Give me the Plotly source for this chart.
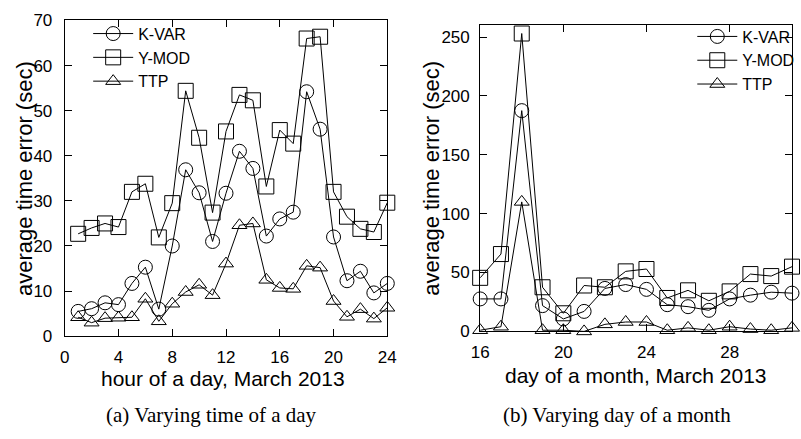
import plotly.graph_objects as go

# ---- data: error per hour of day (March 2013) ----
hours = list(range(1, 25))
kvar_hour = [5.5, 6.1, 7.4, 7.0, 11.7, 15.3, 6.0, 20.0, 36.9, 31.8, 21.0, 31.7,
             41.0, 37.2, 22.2, 26.0, 27.5, 54.2, 45.9, 22.0, 12.3, 14.4, 9.6, 11.7]
ymod_hour = [22.7, 24.0, 25.0, 24.2, 32.0, 33.8, 21.9, 29.5, 54.4, 44.0, 27.4, 45.4,
             53.5, 52.3, 33.2, 45.7, 42.7, 66.0, 66.4, 32.0, 26.5, 23.8, 23.1, 29.6]
ttp_hour = [4.2, 3.0, 4.0, 4.1, 4.2, 8.3, 3.3, 7.2, 9.8, 11.4, 9.1, 16.1,
            24.6, 25.0, 12.5, 10.7, 10.5, 15.6, 15.2, 7.8, 4.3, 6.0, 3.9, 6.3]

# ---- data: error per day of month (March 2013) ----
days = list(range(16, 32))
kvar_day = [27.6, 27.6, 187.5, 21.9, 10.6, 17.0, 36.5, 39.8, 35.7, 22.7, 21.0, 17.9,
            27.6, 30.8, 33.3, 32.5]
ymod_day = [45.5, 65.7, 253.0, 37.5, 15.4, 39.0, 37.5, 51.0, 53.0, 28.4, 34.9, 26.0,
            34.0, 48.7, 47.0, 55.0]
ttp_day = [1.0, 4.0, 110.0, 1.0, 1.0, 0.0, 6.0, 8.0, 8.0, 1.0, 3.0, 1.0,
           4.0, 2.0, 1.0, 3.0]

series_names = ["K-VAR", "Y-MOD", "TTP"]
symbols = ["circle-open", "square-open", "triangle-up-open"]
sizes = [14, 15, 13]

hour_ticks = [0, 4, 8, 12, 16, 20, 24]
hour_yticks = [0, 10, 20, 30, 40, 50, 60, 70]
day_ticks = [16, 20, 24, 28]
day_yticks = [0, 50, 100, 150, 200, 250]

W, H = 801, 439
SANS = "Liberation Sans, Arial, sans-serif"
SERIF = "Liberation Serif, Times New Roman, serif"

fig = go.Figure()

for name, sym, sz, ys in zip(series_names, symbols, sizes, [kvar_hour, ymod_hour, ttp_hour]):
    fig.add_trace(go.Scatter(
        x=hours, y=ys, name=name, mode="lines+markers",
        line=dict(color="black", width=1),
        marker=dict(symbol=sym, size=sz, color="black", line=dict(color="black", width=1)),
        cliponaxis=False, xaxis="x", yaxis="y", legend="legend",
    ))

for name, sym, sz, ys in zip(series_names, symbols, sizes, [kvar_day, ymod_day, ttp_day]):
    fig.add_trace(go.Scatter(
        x=days, y=ys, name=name, mode="lines+markers",
        line=dict(color="black", width=1),
        marker=dict(symbol=sym, size=sz, color="black", line=dict(color="black", width=1)),
        cliponaxis=False, xaxis="x2", yaxis="y2", legend="legend2",
    ))

axis_common = dict(
    showline=True, linecolor="black", linewidth=1, mirror="allticks",
    ticks="inside", ticklen=7, tickwidth=1, tickcolor="black",
    showgrid=False, zeroline=False,
    tickfont=dict(family=SANS, size=17, color="black"),
)

legend_common = dict(
    xanchor="left", yanchor="top", bgcolor="rgba(0,0,0,0)",
    font=dict(family=SANS, size=16, color="black"),
    itemwidth=40, tracegroupgap=0,
)

fig.update_layout(
    width=W, height=H,
    margin=dict(l=0, r=0, t=0, b=0),
    paper_bgcolor="white", plot_bgcolor="white",
    xaxis=dict(domain=[57 / W, 387 / W], range=[0, 24], tickvals=hour_ticks,
               anchor="y", ticklabelstandoff=5, **axis_common),
    yaxis=dict(domain=[(H - 342) / H, (H - 12) / H], range=[0, 70], tickvals=hour_yticks,
               anchor="x", ticklabelstandoff=8, **axis_common),
    xaxis2=dict(domain=[482 / W, 801 / W], range=[16, 31], tickvals=day_ticks,
                anchor="y2", ticklabelstandoff=5, **axis_common),
    yaxis2=dict(domain=[(H - 337) / H, (H - 17) / H], range=[0, 260], tickvals=day_yticks,
                anchor="x2", ticklabelstandoff=6, **axis_common),
    legend=dict(x=81 / W, y=1 - 8 / H, **legend_common),
    legend2=dict(x=699 / W, y=1 - 11 / H, **legend_common),
    showlegend=True,
)

annotations = [
    dict(text="average time error (sec)", x=16 / W, y=1 - 177 / H, textangle=-90,
         font=dict(family=SANS, size=22, color="black")),
    dict(text="average time error (sec)", x=432 / W, y=1 - 177 / H, textangle=-90,
         font=dict(family=SANS, size=22, color="black")),
    dict(text="hour of a day, March 2013", x=219 / W, y=1 - 386 / H,
         font=dict(family=SANS, size=21, color="black")),
    dict(text="day of a month, March 2013", x=641 / W, y=1 - 383 / H,
         font=dict(family=SANS, size=21, color="black")),
    dict(text="(a) Varying time of a day", x=207 / W, y=1 - 424 / H,
         font=dict(family=SERIF, size=21, color="black")),
    dict(text="(b) Varying day of a month", x=622 / W, y=1 - 424 / H,
         font=dict(family=SERIF, size=21, color="black")),
]
for a in annotations:
    a.update(xref="paper", yref="paper", showarrow=False, xanchor="center", yanchor="middle")
fig.update_layout(annotations=annotations)

fig.write_html("out.html")
